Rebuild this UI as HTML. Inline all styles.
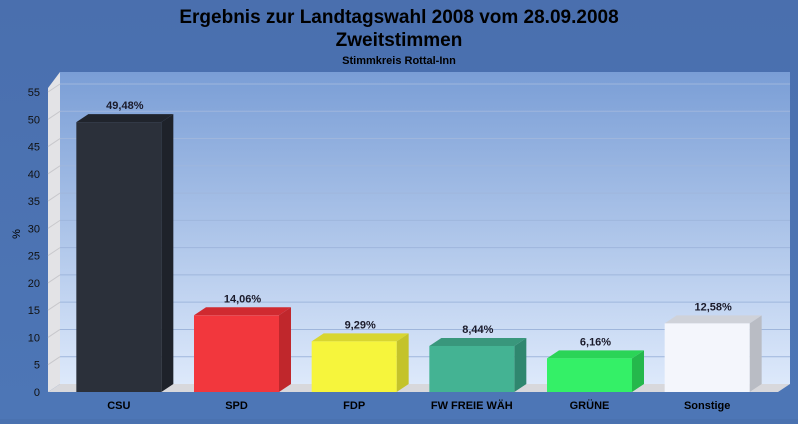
<!DOCTYPE html>
<html><head><meta charset="utf-8"><style>
body{margin:0;width:798px;height:419px;overflow:hidden;background:#4a72b0;font-family:"Liberation Sans",sans-serif}
</style></head><body>
<svg id="c" width="798" height="419" xmlns="http://www.w3.org/2000/svg">
<defs>
<linearGradient id="bg" x1="0" y1="0" x2="0" y2="1"><stop offset="0" stop-color="#4a6fae"/><stop offset="1" stop-color="#4d76b6"/></linearGradient>
<linearGradient id="wall" x1="0" y1="0" x2="0" y2="1"><stop offset="0" stop-color="#7a9ed6"/><stop offset="1" stop-color="#dde9fb"/></linearGradient>
</defs>
<rect width="798" height="419" fill="url(#bg)"/>
<text x="399" y="23" text-anchor="middle" font-size="19" font-weight="bold" fill="#000">Ergebnis zur Landtagswahl 2008 vom 28.09.2008</text>
<text x="399" y="46" text-anchor="middle" font-size="19" font-weight="bold" fill="#000">Zweitstimmen</text>
<text x="399" y="64" text-anchor="middle" font-size="11" font-weight="bold" fill="#000">Stimmkreis Rottal-Inn</text>
<text transform="translate(20,234) rotate(-90)" text-anchor="middle" font-size="11" fill="#000">%</text>
<g id="plot"></g>
</svg>
<script>
const categories=["CSU","SPD","FDP","FW FREIE WÄH","GRÜNE","Sonstige"];
const values=[49.48,14.06,9.29,8.44,6.16,12.58];
const valueLabels=["49,48%","14,06%","9,29%","8,44%","6,16%","12,58%"];
const ticks=[0,5,10,15,20,25,30,35,40,45,50,55];
const colors=[["#2b303a","#1e222a","#20242c"],["#f2373d","#c0272c","#d02a30"],["#f6f53c","#c4c32a","#d8d630"],["#44b393","#2f876f","#39977c"],["#34f067","#25b84c","#2bd457"],["#f4f6fc","#b9bcc4","#cfd2d9"]];
const NS="http://www.w3.org/2000/svg";
const g=document.getElementById('plot');
const y0=392,yTop=92,vMax=55,dx=12,dy=8,xL=48,xR=778;
function yS(v){return y0-(v/vMax)*(y0-yTop);}
const band=(xR-xL-24)/categories.length;
function xC(i){return xL+12+band*(i+0.5);}
function mk(t,a){const e=document.createElementNS(NS,t);for(const k in a)e.setAttribute(k,a[k]);g.appendChild(e);return e;}
let e;
e=mk('rect',{x:xL+dx,y:yTop-dy-12,width:xR-xL,height:y0-yTop+12,fill:'url(#wall)'});

e=mk('polygon',{points:`${xL},${yTop-4} ${xL+dx},${yTop-dy-12} ${xL+dx},${y0-dy} ${xL},${y0}`,fill:'#e3e3e6'});

e=mk('polygon',{points:`${xL},${y0} ${xL+dx},${y0-dy} ${xR+dx},${y0-dy} ${xR},${y0}`,fill:'#d8d8dc'});

ticks.forEach(t=>{const y=yS(t);
 if(t>0){e=mk('line',{x1:xL+dx,y1:y-dy,x2:xR+dx,y2:y-dy,stroke:'#9fb6dc','stroke-width':1});
 
 e=mk('line',{x1:xL,y1:y,x2:xL+dx,y2:y-dy,stroke:'#c8c8cc','stroke-width':1});
 }
 e=mk('text',{x:40,y:y+4,'text-anchor':'end','font-size':11,fill:'#111'});e.textContent=t;
 
});
const bw=85;
values.forEach((v,i)=>{const x=xC(i)-bw/2,yt=yS(v),c=colors[i];
 e=mk('polygon',{points:`${x+bw},${yt} ${x+bw+dx},${yt-dy} ${x+bw+dx},${y0-dy} ${x+bw},${y0}`,fill:c[1]});
 
 e=mk('polygon',{points:`${x},${yt} ${x+dx},${yt-dy} ${x+bw+dx},${yt-dy} ${x+bw},${yt}`,fill:c[2]});
 
 e=mk('rect',{x:x,y:yt,width:bw,height:y0-yt,fill:c[0]});
 
 e=mk('text',{x:xC(i)+6,y:yt-dy-5,'text-anchor':'middle','font-size':11,'font-weight':'bold',fill:'#1a1a2a'});e.textContent=valueLabels[i];
 
 e=mk('text',{x:xC(i),y:409,'text-anchor':'middle','font-size':11,'font-weight':'bold',fill:'#000'});e.textContent=categories[i];
 
});
</script>
</body></html>
